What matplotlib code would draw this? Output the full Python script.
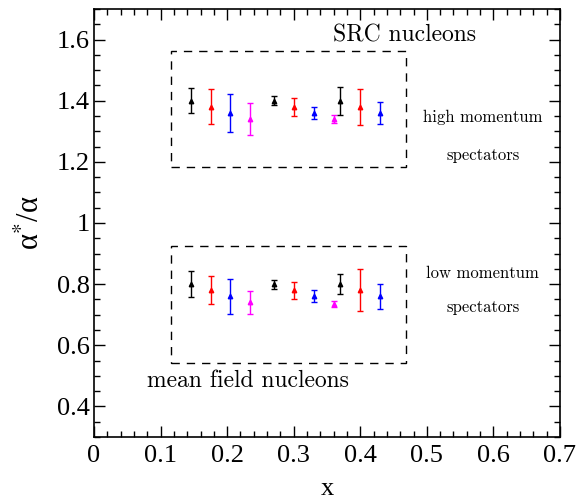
import matplotlib
matplotlib.use("Agg")
import matplotlib.pyplot as plt
from matplotlib.patches import Rectangle
from matplotlib.ticker import MultipleLocator

plt.rcParams['mathtext.fontset'] = 'stix'

x_vals = [0.145, 0.175, 0.205, 0.235, 0.27, 0.30, 0.33, 0.36, 0.37, 0.40, 0.43]
point_colors = ['black', 'red', 'blue', 'magenta', 'black', 'red', 'blue',
                'magenta', 'black', 'red', 'blue']
src_y = [1.40, 1.38, 1.36, 1.34, 1.40, 1.38, 1.36, 1.34, 1.40, 1.38, 1.36]
src_err = [0.04, 0.057, 0.063, 0.053, 0.015, 0.029, 0.02, 0.012, 0.046, 0.058, 0.035]
mf_y = [0.80, 0.78, 0.76, 0.74, 0.80, 0.78, 0.76, 0.735, 0.80, 0.78, 0.76]
mf_err = [0.043, 0.046, 0.058, 0.037, 0.015, 0.027, 0.02, 0.011, 0.033, 0.069, 0.041]

src_box = (0.115, 1.182, 0.468, 1.564)
mf_box = (0.115, 0.541, 0.468, 0.925)

fig = plt.figure(figsize=(5.76, 5.01), dpi=100)
ax = fig.add_axes([94/576, 1-437/501, (560-94)/576, (437-9)/501])

for xv, yv, ev, c in zip(x_vals, src_y, src_err, point_colors):
    ax.errorbar(xv, yv, yerr=ev, fmt='^', color=c, ms=3.2, lw=1.0,
                capsize=2.2, capthick=1.0)
for xv, yv, ev, c in zip(x_vals, mf_y, mf_err, point_colors):
    ax.errorbar(xv, yv, yerr=ev, fmt='^', color=c, ms=3.2, lw=1.0,
                capsize=2.2, capthick=1.0)

for (x0, y0, x1, y1) in (src_box, mf_box):
    ax.add_patch(Rectangle((x0, y0), x1 - x0, y1 - y0, fill=False,
                           ls=(0, (6, 5)), lw=1.0, ec='black'))

ax.text(0.466, 1.615, 'SRC nucleons', family='cmr10', fontsize=17,
        ha='center', va='center')
ax.text(0.231, 0.483, 'mean field nucleons', family='cmr10', fontsize=17,
        ha='center', va='center')
for txt, yv in (('high momentum', 1.347), ('spectators', 1.222),
                ('low momentum', 0.836), ('spectators', 0.725)):
    ax.text(0.584, yv, txt, family='cmr10', fontsize=12,
            ha='center', va='center')

ax.set_xlim(0, 0.7)
ax.set_ylim(0.3, 1.7)
ax.xaxis.set_minor_locator(MultipleLocator(0.02))
ax.yaxis.set_minor_locator(MultipleLocator(0.05))
ax.set_xticks([0, 0.1, 0.2, 0.3, 0.4, 0.5, 0.6, 0.7])
ax.set_xticklabels(['0', '0.1', '0.2', '0.3', '0.4', '0.5', '0.6', '0.7'])
ax.set_yticks([0.4, 0.6, 0.8, 1.0, 1.2, 1.4, 1.6])
ax.set_yticklabels(['0.4', '0.6', '0.8', '1', '1.2', '1.4', '1.6'])
ax.tick_params(which='both', direction='in', top=True, right=True,
               labelsize=19)
ax.tick_params(axis='x', pad=6)
ax.tick_params(axis='y', pad=3)
ax.tick_params(which='major', length=8, width=1)
ax.tick_params(which='minor', length=4, width=1)
for lab in ax.get_xticklabels() + ax.get_yticklabels():
    lab.set_family('Liberation Serif')
for s in ax.spines.values():
    s.set_linewidth(1.2)

ax.set_xlabel('x', family='Liberation Serif', fontsize=19, labelpad=8)
ax.set_ylabel('α$^{*}$/α', family='Liberation Serif', fontsize=22, labelpad=8)

fig.savefig('out.png', dpi=100)
